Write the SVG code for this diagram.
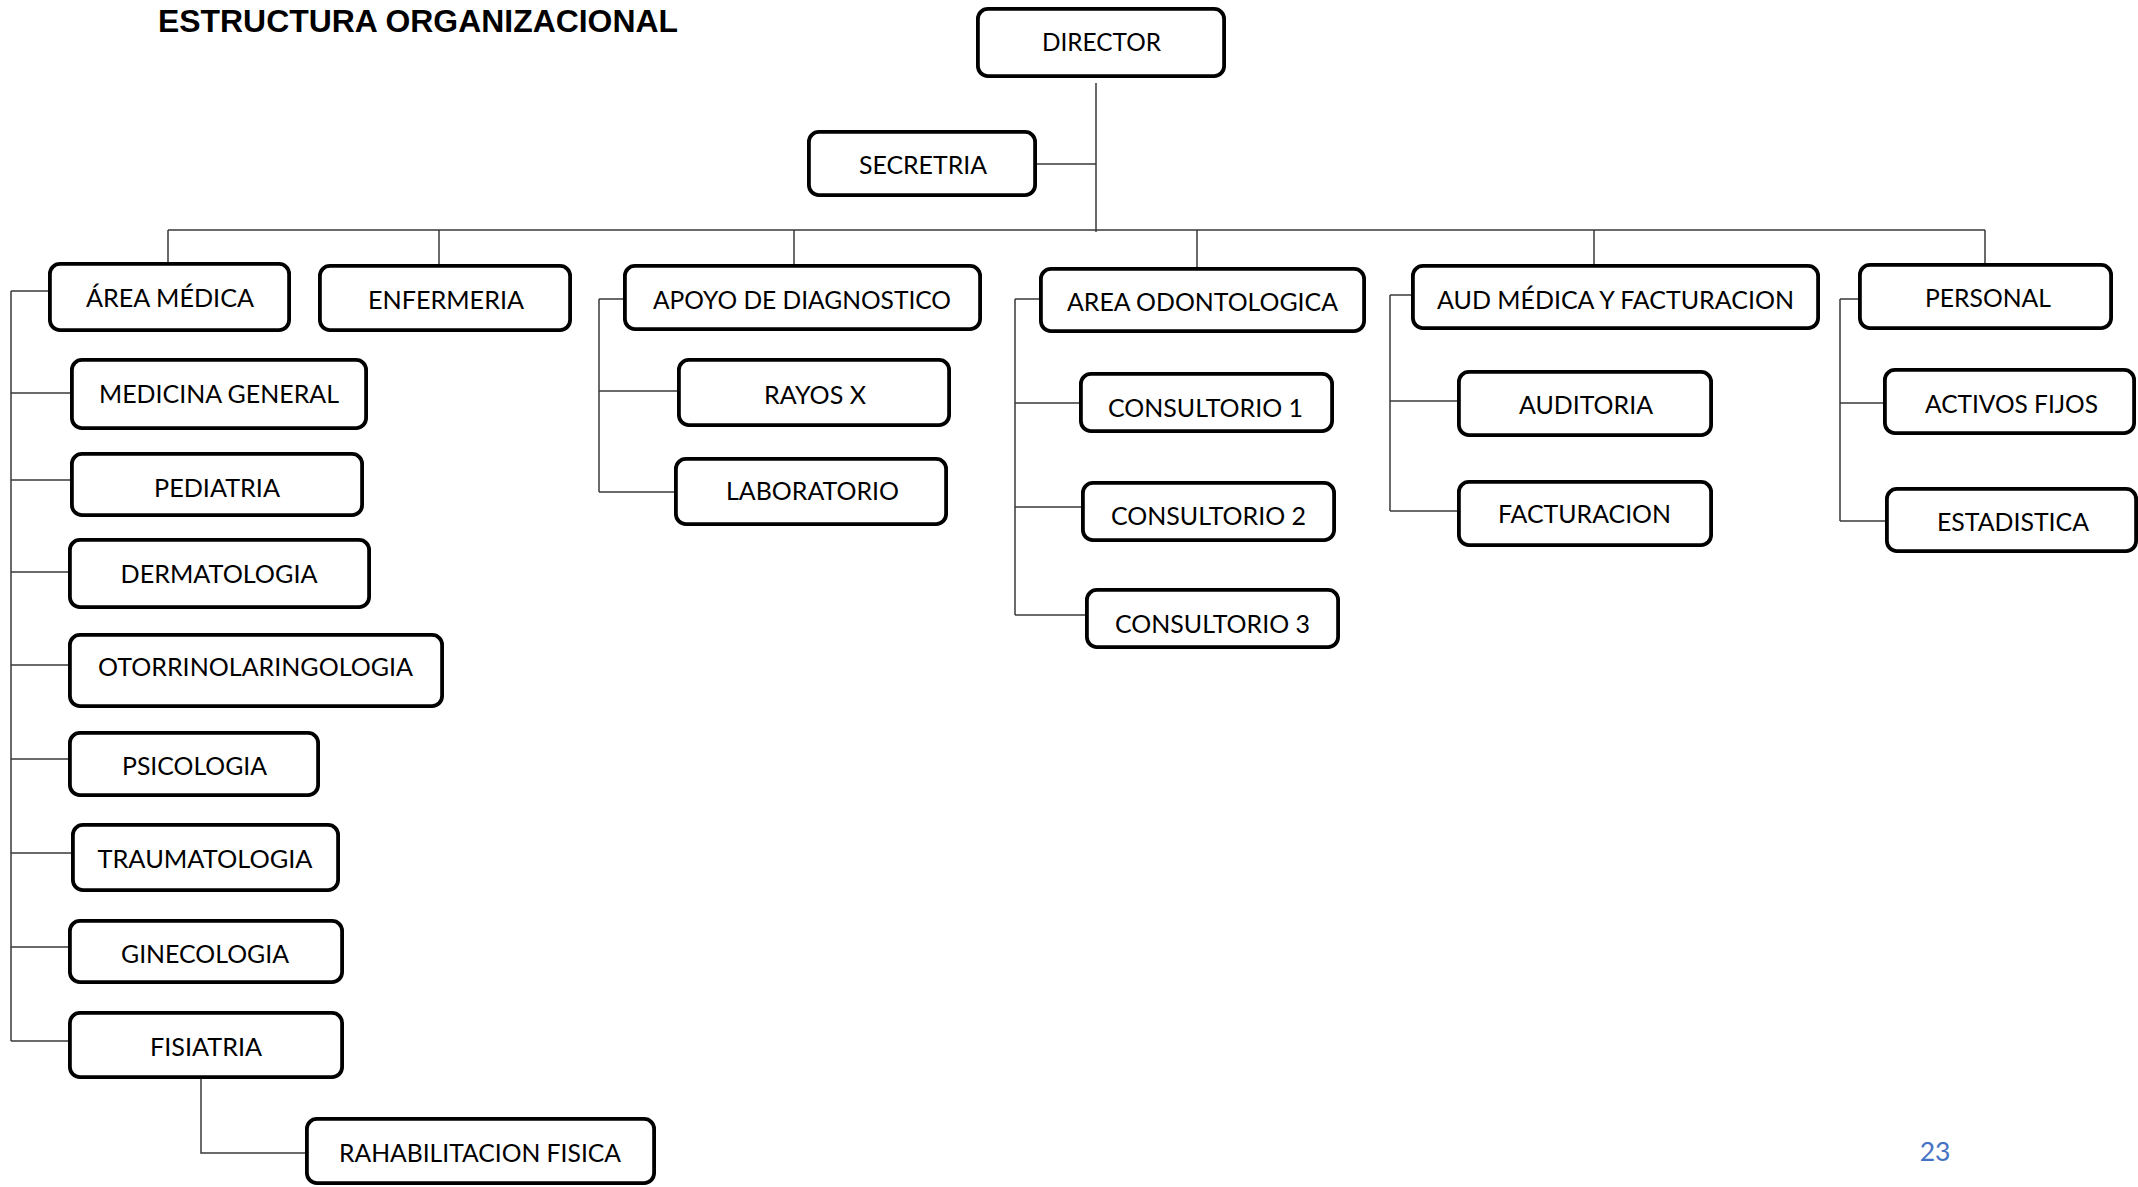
<svg xmlns="http://www.w3.org/2000/svg" width="2138" height="1187" viewBox="0 0 2138 1187">
<style>
.box{fill:#fff;stroke:#000;stroke-width:3.8}
.t{font-family:Lato,"Open Sans","Liberation Sans",sans-serif;font-size:24.6px;fill:#000;text-anchor:middle}
.c{fill:none;stroke:#3a3a3a;stroke-width:1.5}
.title{font-family:"Liberation Sans",Arial,sans-serif;font-weight:bold;font-size:31.5px;fill:#000}
</style>
<rect width="2138" height="1187" fill="#fff"/>
<text class="title" x="158" y="32" textLength="520" lengthAdjust="spacingAndGlyphs">ESTRUCTURA ORGANIZACIONAL</text>
<g id="connectors">
<path class="c" d="M1096,83V232 M1037,164H1096 M168,230H1985 M168,230V262 M439,230V264 M794,230V264 M1197,230V267 M1594,230V264 M1985,230V263"/>
<path class="c" d="M11,291V1041 M11,291H48 M11,393H70 M11,480H70 M11,572H68 M11,665H68 M11,759H68 M11,853H71 M11,947H68 M11,1041H68"/>
<path class="c" d="M201,1079V1153H305"/>
<path class="c" d="M599,299V492 M599,299H623 M599,391H677 M599,492H674"/>
<path class="c" d="M1015,299V615 M1015,299H1039 M1015,403H1079 M1015,507H1081 M1015,615H1085"/>
<path class="c" d="M1390,295V511 M1390,295H1411 M1390,401H1457 M1390,511H1457"/>
<path class="c" d="M1840,299V521 M1840,299H1858 M1840,403H1883 M1840,521H1885"/>
</g>
<g id="director"><rect class="box" x="977.9" y="8.9" width="246.2" height="67.2" rx="10"/><text class="t" x="1101.5" y="50.8" textLength="119" lengthAdjust="spacingAndGlyphs">DIRECTOR</text></g>
<g id="secretria"><rect class="box" x="808.9" y="131.9" width="226.2" height="63.2" rx="10"/><text class="t" x="923" y="174.3" textLength="128" lengthAdjust="spacingAndGlyphs">SECRETRIA</text></g>
<g id="area-medica"><rect class="box" x="49.9" y="263.9" width="239.2" height="66.2" rx="10"/><text class="t" x="170" y="306.8" textLength="168" lengthAdjust="spacingAndGlyphs">ÁREA MÉDICA</text></g>
<g id="enfermeria"><rect class="box" x="319.9" y="265.9" width="250.2" height="64.2" rx="10"/><text class="t" x="446" y="308.8" textLength="156" lengthAdjust="spacingAndGlyphs">ENFERMERIA</text></g>
<g id="apoyo"><rect class="box" x="624.9" y="265.9" width="355.2" height="63.2" rx="10"/><text class="t" x="802" y="308.8" textLength="298" lengthAdjust="spacingAndGlyphs">APOYO DE DIAGNOSTICO</text></g>
<g id="area-odontologica"><rect class="box" x="1040.9" y="268.9" width="323.2" height="62.2" rx="10"/><text class="t" x="1202.5" y="311.3" textLength="271" lengthAdjust="spacingAndGlyphs">AREA ODONTOLOGICA</text></g>
<g id="aud-medica"><rect class="box" x="1412.9" y="265.9" width="405.2" height="62.2" rx="10"/><text class="t" x="1615.5" y="308.8" textLength="357" lengthAdjust="spacingAndGlyphs">AUD MÉDICA Y FACTURACION</text></g>
<g id="personal"><rect class="box" x="1859.9" y="264.9" width="251.2" height="63.2" rx="10"/><text class="t" x="1988" y="306.8" textLength="126" lengthAdjust="spacingAndGlyphs">PERSONAL</text></g>
<g id="medicina-general"><rect class="box" x="71.9" y="359.9" width="294.2" height="68.2" rx="10"/><text class="t" x="219" y="402.8" textLength="240" lengthAdjust="spacingAndGlyphs">MEDICINA GENERAL</text></g>
<g id="pediatria"><rect class="box" x="71.9" y="453.9" width="290.2" height="61.2" rx="10"/><text class="t" x="217" y="496.8" textLength="126" lengthAdjust="spacingAndGlyphs">PEDIATRIA</text></g>
<g id="dermatologia"><rect class="box" x="69.9" y="539.9" width="299.2" height="67.2" rx="10"/><text class="t" x="219" y="582.8" textLength="197" lengthAdjust="spacingAndGlyphs">DERMATOLOGIA</text></g>
<g id="otorrinolaringologia"><rect class="box" x="69.9" y="634.9" width="372.2" height="71.2" rx="10"/><text class="t" x="255.5" y="676.3" textLength="315" lengthAdjust="spacingAndGlyphs">OTORRINOLARINGOLOGIA</text></g>
<g id="psicologia"><rect class="box" x="69.9" y="732.9" width="248.2" height="62.2" rx="10"/><text class="t" x="194.5" y="774.8" textLength="145" lengthAdjust="spacingAndGlyphs">PSICOLOGIA</text></g>
<g id="traumatologia"><rect class="box" x="72.9" y="824.9" width="265.2" height="65.2" rx="10"/><text class="t" x="205" y="867.8" textLength="215" lengthAdjust="spacingAndGlyphs">TRAUMATOLOGIA</text></g>
<g id="ginecologia"><rect class="box" x="69.9" y="920.9" width="272.2" height="61.2" rx="10"/><text class="t" x="205" y="962.8" textLength="168" lengthAdjust="spacingAndGlyphs">GINECOLOGIA</text></g>
<g id="fisiatria"><rect class="box" x="69.9" y="1012.9" width="272.2" height="64.2" rx="10"/><text class="t" x="206" y="1055.8" textLength="112" lengthAdjust="spacingAndGlyphs">FISIATRIA</text></g>
<g id="rehabilitacion-fisica"><rect class="box" x="306.9" y="1118.9" width="347.2" height="64.2" rx="10"/><text class="t" x="480" y="1161.8" textLength="282" lengthAdjust="spacingAndGlyphs">RAHABILITACION FISICA</text></g>
<g id="rayos-x"><rect class="box" x="678.9" y="359.9" width="270.2" height="65.2" rx="10"/><text class="t" x="815" y="403.8" textLength="102" lengthAdjust="spacingAndGlyphs">RAYOS X</text></g>
<g id="laboratorio"><rect class="box" x="675.9" y="458.9" width="270.2" height="65.2" rx="10"/><text class="t" x="812.5" y="500.3" textLength="173" lengthAdjust="spacingAndGlyphs">LABORATORIO</text></g>
<g id="consultorio-1"><rect class="box" x="1080.9" y="373.9" width="251.2" height="57.2" rx="10"/><text class="t" x="1205.5" y="416.8" textLength="195" lengthAdjust="spacingAndGlyphs">CONSULTORIO 1</text></g>
<g id="consultorio-2"><rect class="box" x="1082.9" y="482.9" width="251.2" height="57.2" rx="10"/><text class="t" x="1208.5" y="524.8" textLength="195" lengthAdjust="spacingAndGlyphs">CONSULTORIO 2</text></g>
<g id="consultorio-3"><rect class="box" x="1086.9" y="589.9" width="251.2" height="57.2" rx="10"/><text class="t" x="1212.5" y="632.8" textLength="195" lengthAdjust="spacingAndGlyphs">CONSULTORIO 3</text></g>
<g id="auditoria"><rect class="box" x="1458.9" y="371.9" width="252.2" height="63.2" rx="10"/><text class="t" x="1586" y="414.3" textLength="134" lengthAdjust="spacingAndGlyphs">AUDITORIA</text></g>
<g id="facturacion"><rect class="box" x="1458.9" y="481.9" width="252.2" height="63.2" rx="10"/><text class="t" x="1584.5" y="523.3" textLength="173" lengthAdjust="spacingAndGlyphs">FACTURACION</text></g>
<g id="activos-fijos"><rect class="box" x="1884.9" y="369.9" width="249.2" height="63.2" rx="10"/><text class="t" x="2011.5" y="413.3" textLength="173" lengthAdjust="spacingAndGlyphs">ACTIVOS FIJOS</text></g>
<g id="estadistica"><rect class="box" x="1886.9" y="488.9" width="249.2" height="62.2" rx="10"/><text class="t" x="2013" y="530.8" textLength="152" lengthAdjust="spacingAndGlyphs">ESTADISTICA</text></g>
<text x="1935" y="1161" font-family="Lato,'Open Sans',sans-serif" font-size="26.5" fill="#4472C4" text-anchor="middle">23</text>
</svg>
